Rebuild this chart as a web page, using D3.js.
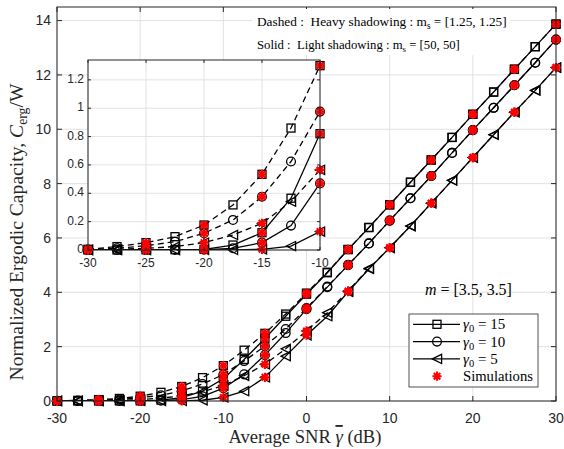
<!DOCTYPE html>
<html><head><meta charset="utf-8">
<script src="https://cdn.jsdelivr.net/npm/d3@7"></script>
<style>body{margin:0;background:#fff} svg{display:block} text{white-space:pre}</style>
</head><body><svg id="c" width="564" height="449"></svg>
<script>
// ---------------- data ----------------
const snr = [-30,-27.5,-25,-22.5,-20,-17.5,-15,-12.5,-10,-7.5,-5,-2.5,0,2.5,5,7.5,10,12.5,15,17.5,20,22.5,25,27.5,30];
const simSnr = [-30,-25,-20,-15,-10,-5,0,5,10,15,20,25,30];
const heavy15 = [0.005,0.024,0.052,0.094,0.176,0.318,0.534,0.86,1.30,1.87,2.49,3.20,3.97,4.74,5.58,6.39,7.22,8.05,8.87,9.70,10.55,11.37,12.21,13.04,13.87];
const light15 = [0.000,0.000,0.001,0.002,0.005,0.035,0.122,0.365,0.82,1.53,2.30,3.12,3.93,4.72,5.57,6.38,7.22,8.05,8.87,9.70,10.55,11.37,12.21,13.04,13.87];
const heavy10 = [0.003,0.012,0.030,0.059,0.118,0.212,0.376,0.624,0.976,1.47,2.02,2.65,3.42,4.21,5.01,5.80,6.64,7.46,8.28,9.13,9.97,10.79,11.62,12.45,13.30];
const light10 = [0.000,0.000,0.000,0.001,0.002,0.012,0.052,0.172,0.47,0.98,1.69,2.50,3.38,4.19,5.00,5.80,6.64,7.46,8.28,9.13,9.97,10.79,11.62,12.45,13.30];
const heavy5  = [0.001,0.004,0.012,0.024,0.052,0.106,0.188,0.341,0.565,0.93,1.35,1.92,2.58,3.25,4.05,4.88,5.64,6.44,7.28,8.12,8.96,9.80,10.63,11.43,12.27];
const light5  = [0.000,0.000,0.000,0.000,0.001,0.001,0.005,0.028,0.13,0.36,0.87,1.65,2.42,3.12,4.02,4.86,5.64,6.44,7.28,8.12,8.96,9.80,10.63,11.43,12.27];
const xTicks = [-30,-20,-10,0,10,20,30];
const yTicks = [0,2,4,6,8,10,12,14];
const insetXTicks = [-30,-25,-20,-15,-10];
const insetYTicks = [0,0.2,0.4,0.6,0.8,1,1.2];
const gammaLabels = ["15","10","5"];
const markerKinds = ["square","circle","triangle"];

const series = [
  {v: heavy15, dashed: true,  m: "square"},
  {v: heavy10, dashed: true,  m: "circle"},
  {v: heavy5,  dashed: true,  m: "triangle"},
  {v: light15, dashed: false, m: "square"},
  {v: light10, dashed: false, m: "circle"},
  {v: light5,  dashed: false, m: "triangle"}
];

// ---------------- setup ----------------
const svg = d3.select("#c");
const AX = "#262626", GRID = "#e2e2e2", SERIF = "'Liberation Serif','Times New Roman',serif", SANS = "'Liberation Sans',Arial,sans-serif";
const x = d3.scaleLinear().domain([-30,30]).range([57,556]);
const y = d3.scaleLinear().domain([0,14.5]).range([401,7]);
const ix = d3.scaleLinear().domain([-30,-10]).range([88,320]);
const iy = d3.scaleLinear().domain([0,1.34]).range([250,60]);

function drawMarker(g, kind, cx, cy, s) {
  s = s || 1;
  if (kind === "square") {
    g.append("rect").attr("x", cx-4*s).attr("y", cy-4*s).attr("width", 8*s).attr("height", 8*s)
      .attr("fill","none").attr("stroke","#000").attr("stroke-width",1.3);
  } else if (kind === "circle") {
    g.append("circle").attr("cx",cx).attr("cy",cy).attr("r",4.4*s)
      .attr("fill","none").attr("stroke","#000").attr("stroke-width",1.3);
  } else if (kind === "triangle") {
    const r = 4.6*s;
    g.append("path").attr("d",`M${cx-r},${cy}L${cx+r},${cy-r}L${cx+r},${cy+r}Z`)
      .attr("fill","none").attr("stroke","#000").attr("stroke-width",1.3);
  } else if (kind === "star") {
    const r = 4.6*s; let d = "";
    [0,45,90,135].forEach(a => { const t = a*Math.PI/180, dx = r*Math.cos(t), dy = r*Math.sin(t);
      d += `M${cx-dx},${cy-dy}L${cx+dx},${cy+dy}`; });
    g.append("path").attr("d", d).attr("stroke","#ff0000").attr("stroke-width",2.1).attr("fill","none");
  }
}

function drawPanel(g, xs, ys, xt, yt, xMax, opts) {
  const [x0,x1] = xs.range(), [y0,y1] = ys.range();
  g.append("rect").attr("x",x0).attr("y",y1).attr("width",x1-x0).attr("height",y0-y1).attr("fill","#fff");
  g.append("g").selectAll("line").data(xt).join("line")
    .attr("x1",d=>xs(d)).attr("x2",d=>xs(d)).attr("y1",y0).attr("y2",y1).attr("stroke",GRID).attr("stroke-width",1);
  g.append("g").selectAll("line").data(yt).join("line")
    .attr("y1",d=>ys(d)).attr("y2",d=>ys(d)).attr("x1",x0).attr("x2",x1).attr("stroke",GRID).attr("stroke-width",1);
  const id = "clip"+Math.round(x0);
  g.append("clipPath").attr("id",id).append("rect").attr("x",x0).attr("y",y1).attr("width",x1-x0).attr("height",y0-y1);
  const line = d3.line().x(d=>xs(d[0])).y(d=>ys(d[1]));
  series.forEach(s => {
    const pts = snr.map((t,i)=>[t,s.v[i]]).filter(p=>p[0]<=xMax);
    g.append("path").attr("d",line(pts)).attr("fill","none").attr("stroke","#000")
      .attr("stroke-width",1.3).attr("stroke-dasharray", s.dashed ? "6,4" : null).attr("clip-path",`url(#${id})`);
  });
  series.forEach(s => {
    snr.forEach((t,i) => { if (t<=xMax) drawMarker(g, s.m, xs(t), ys(s.v[i])); });
  });
  series.forEach(s => {
    simSnr.forEach(t => { const i = snr.indexOf(t); if (t<=xMax) drawMarker(g, "star", xs(t), ys(s.v[i])); });
  });
  g.append("rect").attr("x",x0).attr("y",y1).attr("width",x1-x0).attr("height",y0-y1)
    .attr("fill","none").attr("stroke",AX).attr("stroke-width",opts.bw);
  const tl = opts.tl;
  xt.forEach(d => {
    g.append("line").attr("x1",xs(d)).attr("x2",xs(d)).attr("y1",y0).attr("y2",y0-tl).attr("stroke",AX);
    g.append("line").attr("x1",xs(d)).attr("x2",xs(d)).attr("y1",y1).attr("y2",y1+tl).attr("stroke",AX);
  });
  yt.forEach(d => {
    g.append("line").attr("y1",ys(d)).attr("y2",ys(d)).attr("x1",x0).attr("x2",x0+tl).attr("stroke",AX);
    g.append("line").attr("y1",ys(d)).attr("y2",ys(d)).attr("x1",x1).attr("x2",x1-tl).attr("stroke",AX);
  });
  g.append("g").selectAll("text").data(xt).join("text")
    .attr("x",d=>xs(d)).attr("y",y0+opts.xly).attr("text-anchor","middle")
    .attr("font-family",SANS).attr("font-size",opts.fs).attr("fill",AX).text(d=>d);
  g.append("g").selectAll("text").data(yt).join("text")
    .attr("x",x0-opts.ylx).attr("y",d=>ys(d)+opts.yly).attr("dy","0.35em").attr("text-anchor","end")
    .attr("font-family",SANS).attr("font-size",opts.fs).attr("fill",AX).text(d=>d);
}

function fit(sel, w) {
  const l = sel.node().getComputedTextLength();
  const fs = parseFloat(sel.attr("font-size"));
  sel.attr("font-size", fs*w/l);
}

// main panel
drawPanel(svg.append("g"), x, y, xTicks, yTicks, 30, {bw:1, tl:5, fs:14, xly:22, ylx:6, yly:0});

// axis labels
const xl = svg.append("text").attr("x",305).attr("y",443).attr("text-anchor","middle")
  .attr("font-family",SERIF).attr("font-size",16).attr("fill",AX);
xl.append("tspan").text("Average SNR ");
xl.append("tspan").attr("font-style","italic").attr("text-decoration","overline").text("γ");
xl.append("tspan").text(" (dB)");
fit(xl, 153);

const yl = svg.append("text").attr("transform","translate(23,232) rotate(-90)").attr("text-anchor","middle")
  .attr("font-family",SERIF).attr("font-size",16).attr("fill",AX);
yl.append("tspan").text("Normalized Ergodic Capacity, ");
yl.append("tspan").attr("font-style","italic").text("C");
yl.append("tspan").attr("font-size","0.7em").attr("dy","0.3em").text("erg");
yl.append("tspan").attr("dy","-0.21em").text("/W");
fit(yl, 297);

// annotation box
svg.append("rect").attr("x",252).attr("y",9).attr("width",259).attr("height",46).attr("fill","#fff");
function annot(yy, parts, w) {
  const t = svg.append("text").attr("x",257).attr("y",yy).attr("font-family",SERIF).attr("font-size",13).attr("fill","#000");
  t.append("tspan").text(parts[0]);
  t.append("tspan").attr("font-size","0.7em").attr("dy","0.3em").text("s");
  t.append("tspan").attr("dy","-0.21em").text(parts[1]);
  fit(t, w);
}
annot(26, ["Dashed :  Heavy shadowing : m", " = [1.25, 1.25]"], 250);
annot(49, ["Solid :  Light shadowing : m", " = [50, 50]"], 203);

// m label
const mt = svg.append("text").attr("x",425).attr("y",295).attr("font-family",SERIF).attr("font-size",15).attr("fill","#000");
mt.append("tspan").attr("font-style","italic").text("m");
mt.append("tspan").text(" = [3.5, 3.5]");
fit(mt, 87);

// inset
drawPanel(svg.append("g"), ix, iy, insetXTicks, insetYTicks, -10, {bw:1, tl:3, fs:12, xly:17, ylx:4, yly:-1});

// legend
const lg = svg.append("g");
lg.append("rect").attr("x",409).attr("y",314).attr("width",129).attr("height",73)
  .attr("fill","#fff").attr("stroke",AX).attr("stroke-width",0.8);
const rowY = [324.3, 341.6, 358.9, 376.2];
gammaLabels.forEach((g,i) => {
  lg.append("line").attr("x1",413).attr("x2",460).attr("y1",rowY[i]).attr("y2",rowY[i]).attr("stroke","#000").attr("stroke-width",1.3);
  drawMarker(lg, markerKinds[i], 437, rowY[i]);
  const t = lg.append("text").attr("x",463).attr("y",rowY[i]).attr("dy","0.33em").attr("font-family",SERIF).attr("font-size",15);
  t.append("tspan").attr("font-style","italic").text("γ");
  t.append("tspan").attr("font-size","0.7em").attr("dy","0.3em").text("0");
  t.append("tspan").attr("dy","-0.21em").text(" = " + g);
});
drawMarker(lg, "star", 437, rowY[3]);
const st = lg.append("text").attr("x",463).attr("y",rowY[3]).attr("dy","0.33em").attr("font-family",SERIF).attr("font-size",14).text("Simulations");
fit(st, 70);
</script></body></html>
